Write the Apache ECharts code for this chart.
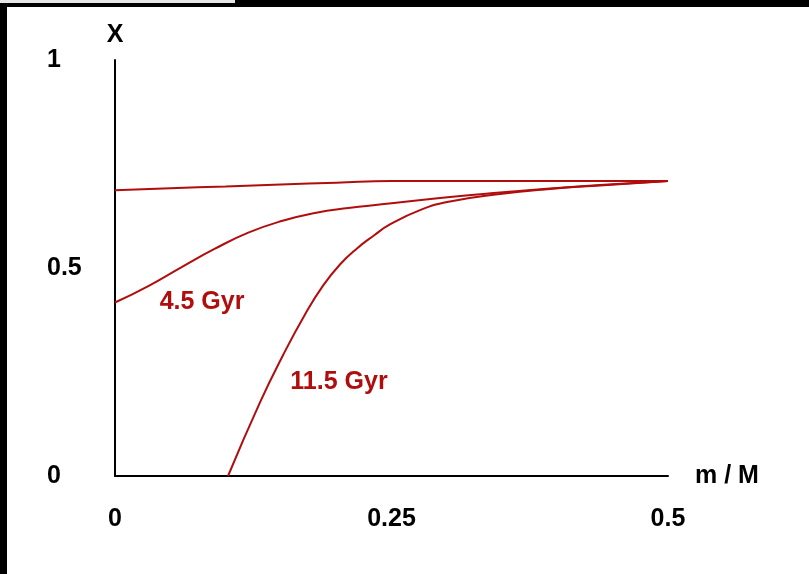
<!DOCTYPE html>
<html>
<head>
<meta charset="utf-8">
<script src="https://cdn.jsdelivr.net/npm/echarts@6/dist/echarts.min.js"></script>
<style>
  html, body { margin: 0; padding: 0; width: 809px; height: 574px; background: #000; overflow: hidden; }
  #strip { position: absolute; left: 0; top: 0; width: 235px; height: 3px; background: #e6e6e6; }
  #chart { position: absolute; left: 7px; top: 7px; width: 802px; height: 567px; background: #fff; }
</style>
</head>
<body>
<div id="strip"></div>
<div id="chart"></div>
<script>
// ---- data ----
const xTicks = [0, 0.25, 0.5];
const yTicks = [0, 0.5, 1];

const topX = [0, 0.05, 0.1, 0.15, 0.2, 0.25, 0.3, 0.35, 0.4, 0.45, 0.5];
const topY = [0.687, 0.692, 0.696, 0.701, 0.705, 0.709, 0.709, 0.709, 0.709, 0.709, 0.709];

const midX = [0, 0.0301, 0.0603, 0.0904, 0.1205, 0.1507, 0.1808, 0.2109, 0.2411, 0.3029, 0.3481, 0.3933, 0.4385, 0.5];
const midY = [0.417, 0.4566, 0.5023, 0.5464, 0.5849, 0.613, 0.6322, 0.6442, 0.6531, 0.6707, 0.6815, 0.6911, 0.6995, 0.7091];

const lowX = [0.1022, 0.1311, 0.1519, 0.1718, 0.1881, 0.2034, 0.2188, 0.2341, 0.2486, 0.2758, 0.3029, 0.3481, 0.3933, 0.4385, 0.5];
const lowY = [0, 0.1769, 0.2904, 0.3882, 0.4575, 0.5084, 0.5471, 0.5782, 0.6046, 0.6392, 0.6601, 0.6781, 0.6901, 0.6986, 0.7091];

const curveLabels = ['4.5 Gyr', '11.5 Gyr'];
const curveLabelPos = [[0.0787, 0.418], [0.2025, 0.226]];

const xName = 'm / M';
const yName = 'X';

// ---- chart ----
const RED = '#b00d0d';
const FONT = '"Liberation Sans", Arial, sans-serif';
const FS = 25;
const pairs = (xs, ys) => xs.map((x, i) => [x, ys[i]]);

const lineSeries = (data, extra) => Object.assign({
  type: 'line',
  data: data,
  smooth: true,
  symbol: 'none',
  lineStyle: { color: RED, width: 2 },
  silent: true,
  animation: false
}, extra || {});

const labelMark = (text, coord) => ({
  symbol: 'circle',
  symbolSize: 0,
  silent: true,
  animation: false,
  label: {
    show: true, position: 'inside', formatter: text,
    color: RED, fontFamily: FONT, fontWeight: 'bold', fontSize: FS
  },
  data: [{ coord: coord }]
});

const chart = echarts.init(document.getElementById('chart'), null, { renderer: 'canvas' });
chart.setOption({
  backgroundColor: '#fff',
  animation: false,
  grid: { left: 108, top: 53, width: 553, height: 416, containLabel: false },
  xAxis: {
    type: 'value', min: 0, max: 0.5, interval: 0.25,
    name: xName, nameLocation: 'end', nameGap: 27,
    nameTextStyle: { color: '#000', fontFamily: FONT, fontWeight: 'bold', fontSize: FS, padding: [22, 0, 0, 0] },
    axisLine: { show: true, lineStyle: { color: '#000', width: 2 } },
    axisTick: { show: false },
    splitLine: { show: false },
    axisLabel: {
      margin: 31, color: '#000', fontFamily: FONT, fontWeight: 'bold', fontSize: FS,
      formatter: v => (xTicks.indexOf(v) >= 0 ? String(v) : '')
    }
  },
  yAxis: {
    type: 'value', min: 0, max: 1, interval: 0.5,
    name: yName, nameLocation: 'end', nameGap: 12,
    nameTextStyle: { color: '#000', fontFamily: FONT, fontWeight: 'bold', fontSize: FS, align: 'center' },
    axisLine: { show: true, lineStyle: { color: '#000', width: 2 } },
    axisTick: { show: false },
    splitLine: { show: false },
    axisLabel: {
      margin: 68, align: 'left', color: '#000', fontFamily: FONT, fontWeight: 'bold', fontSize: FS,
      formatter: v => (yTicks.indexOf(v) >= 0 ? String(v) : '')
    }
  },
  series: [
    lineSeries(pairs(topX, topY)),
    lineSeries(pairs(midX, midY), { markPoint: labelMark(curveLabels[0], curveLabelPos[0]) }),
    lineSeries(pairs(lowX, lowY), { markPoint: labelMark(curveLabels[1], curveLabelPos[1]) })
  ]
});
</script>
</body>
</html>
